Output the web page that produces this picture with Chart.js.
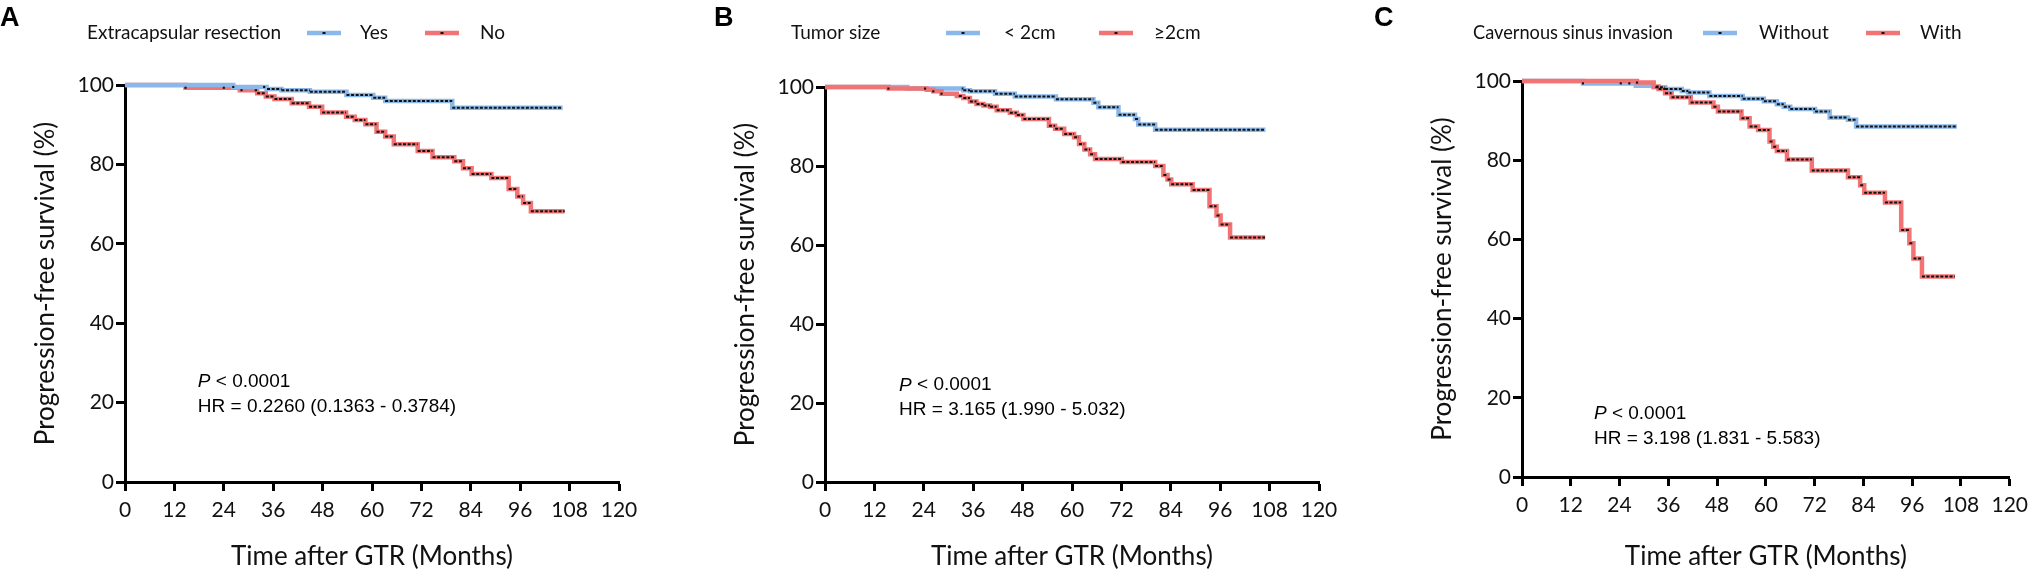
<!DOCTYPE html>
<html>
<head>
<meta charset="utf-8">
<script src="https://cdn.jsdelivr.net/npm/chart.js@4.4.1/dist/chart.umd.min.js"></script>
<style>
  html, body { margin: 0; padding: 0; background: #fff; }
  body { width: 2035px; height: 572px; position: relative; overflow: hidden; }
  .panel { position: absolute; top: 0; height: 572px; }
</style>
</head>
<body>
<div class="panel" style="left:0;width:678px"><canvas id="chartA"></canvas></div>
<div class="panel" style="left:678px;width:678px"><canvas id="chartB"></canvas></div>
<div class="panel" style="left:1356px;width:679px"><canvas id="chartC"></canvas></div>
<script>
// ---- data (months, % progression-free) ----
const xTicks = [0, 12, 24, 36, 48, 60, 72, 84, 96, 108, 120];
const yTicks = [0, 20, 40, 60, 80, 100];

// A: extracapsular resection
const groupsA = ['Yes', 'No'];
const monthsA_yes = [0, 26.3, 34.4, 38.0, 44.9, 53.8, 60.3, 63.2, 79.5, 106.3];
const survA_yes   = [100, 99.5, 99.0, 98.7, 98.3, 97.5, 96.8, 96.0, 94.3, 94.3];
const monthsA_no  = [0, 14.7, 27.9, 32.1, 34.2, 36.3, 40.5, 44.7, 47.9, 53.7, 55.8, 58.4, 61.1, 63.2, 65.3, 71.1, 74.7, 80.0, 82.1, 84.2, 89.0, 93.2, 95.3, 96.7, 98.6, 106.8];
const survA_no    = [100, 99.3, 98.7, 97.9, 97.1, 96.5, 95.4, 94.5, 93.1, 92.0, 91.2, 90.1, 88.2, 87.0, 85.1, 83.4, 81.8, 80.8, 79.0, 77.6, 76.6, 73.8, 71.9, 70.3, 68.2, 68.2];
const censorFromA = [34.5, 31.5];
const singleCensorA_yes = [26.3, 33.8];
const singleCensorA_no  = [14.7, 24.0, 28.3];

// B: tumor size
const groupsB = ['< 2cm', '≥2cm'];
const monthsB_small = [0, 20.0, 33.6, 35.2, 41.3, 46.1, 56.1, 65.2, 66.4, 71.3, 75.3, 76.1, 80.2, 107.0];
const survB_small   = [100, 99.6, 99.2, 98.9, 98.3, 97.6, 96.9, 96.0, 94.9, 93.0, 91.9, 90.5, 89.2, 89.2];
const monthsB_large = [0, 15.4, 24.7, 26.3, 28.3, 32.0, 33.6, 35.2, 36.8, 38.5, 40.1, 41.7, 44.9, 46.6, 48.2, 54.4, 55.9, 58.1, 60.5, 61.7, 63.0, 64.4, 65.6, 72.1, 80.2, 82.2, 83.2, 84.1, 89.3, 93.4, 95.1, 96.1, 98.4, 106.9];
const survB_large   = [100, 99.6, 99.3, 98.9, 98.3, 97.7, 97.2, 96.3, 95.7, 95.3, 95.0, 94.1, 93.5, 92.9, 91.9, 90.2, 89.4, 88.1, 87.3, 85.6, 84.2, 83.0, 81.8, 81.0, 80.0, 77.7, 76.6, 75.4, 73.9, 69.8, 67.5, 65.2, 61.9, 61.9];
const censorFromB = [33.2, 32.5];
const singleCensorB_small = [];
const singleCensorB_large = [15.4, 24.3, 26.3, 28.3];

// C: cavernous sinus invasion
const groupsC = ['Without', 'With'];
const monthsC_without = [0, 15.0, 28.0, 32.4, 35.2, 39.3, 40.9, 46.1, 54.3, 59.5, 62.7, 64.4, 66.0, 72.1, 75.7, 80.2, 82.2, 107.0];
const survC_without   = [100, 99.4, 98.8, 98.4, 98.0, 97.5, 97.1, 96.2, 95.5, 94.9, 94.1, 93.5, 92.9, 92.3, 90.8, 90.2, 88.5, 88.5];
const monthsC_with = [0, 28.3, 32.4, 33.6, 35.2, 36.8, 41.5, 47.1, 48.2, 54.0, 56.0, 58.1, 60.9, 61.8, 62.7, 65.2, 71.3, 80.2, 83.2, 84.2, 89.3, 93.3, 95.3, 96.3, 98.4, 106.5];
const survC_with   = [100, 99.6, 98.6, 98.0, 96.9, 95.9, 94.6, 93.5, 92.3, 90.6, 88.5, 87.6, 84.7, 83.4, 82.3, 80.2, 77.4, 75.7, 73.7, 71.8, 69.3, 62.4, 59.0, 55.2, 50.6, 50.6];
const censorFromC = [32.8, 33.0];
const singleCensorC_without = [15.0, 24.3, 26.4];
const singleCensorC_with = [28.3];

const BLUE = '#8ab8ea';
const RED = '#f27373';
const LABEL_FONT = 'Lato, "Open Sans", sans-serif';

// survival value at time t of a step curve
function stepAt(ts, ss, t) {
  let v = ss[0];
  for (let i = 0; i < ts.length; i++) if (ts[i] <= t) v = ss[i];
  return v;
}

function stepPoints(ts, ss) {
  return ts.map((t, i) => ({ x: t, y: ss[i] }));
}

// flat parts of the curve after censoring starts, drawn as black tick row
function censorRow(ts, ss, from) {
  const pts = [];
  for (let i = 0; i < ts.length - 1; i++) {
    if (ts[i + 1] <= from) continue;
    pts.push({ x: Math.max(ts[i], from), y: ss[i] }, { x: ts[i + 1], y: ss[i] }, { x: ts[i + 1], y: null });
  }
  return pts;
}

function singleMarks(ts, ss, marks) {
  return marks.map(m => ({ x: m, y: stepAt(ts, ss, m) }));
}

function curveSets(ts, ss, color, order, from, marks) {
  return [
    // chart.js 'before' = horizontal first, then the drop
    { data: stepPoints(ts, ss), stepped: 'before', borderColor: color, borderWidth: 4.5,
      pointRadius: 0, clip: false, order: order, fill: false },
    { data: censorRow(ts, ss, from), borderColor: '#111', borderWidth: 2, borderDash: [3, 1.6],
      pointRadius: 0, spanGaps: false, clip: false, order: -2, fill: false },
    { data: singleMarks(ts, ss, marks), showLine: false, pointStyle: 'rect', pointRadius: 1.5,
      pointBackgroundColor: '#111', pointBorderWidth: 0, clip: false, order: -1 }
  ];
}

// legend row, panel letter and the P / HR note
const kmDecor = {
  id: 'kmDecor',
  afterDraw(chart, args, o) {
    const ctx = chart.ctx;
    ctx.save();
    ctx.fillStyle = '#000';
    ctx.textBaseline = 'middle';
    ctx.font = 'bold 27px "Liberation Sans", Arial, sans-serif';
    ctx.fillText(o.letter, o.letterX, 19);

    // capped widths keep the legend row on the original spacing
    ctx.font = '19px ' + LABEL_FONT;
    const y = 33;
    ctx.fillStyle = '#111';
    ctx.fillText(o.title, o.legendX, y, o.titleW);
    o.entries.forEach((lab, i) => {
      const lx = o.lineX[i];
      ctx.strokeStyle = o.colors[i];
      ctx.lineWidth = 4.5;
      ctx.beginPath(); ctx.moveTo(lx, y); ctx.lineTo(lx + 34, y); ctx.stroke();
      ctx.fillStyle = '#111';
      ctx.fillRect(lx + 15.5, y - 1, 3, 2);
      ctx.fillText(lab, o.labelX[i], y, o.labelW[i]);
    });

    const sx = chart.scales.x, sy = chart.scales.y;
    const nx = sx.getPixelForValue(o.noteX);
    ctx.fillStyle = '#000';
    ctx.font = 'italic 19px "Liberation Sans", Arial, sans-serif';
    ctx.fillText('P', nx, sy.getPixelForValue(o.noteP));
    const pw = ctx.measureText('P').width;
    ctx.font = '19px "Liberation Sans", Arial, sans-serif';
    ctx.fillText(' < 0.0001', nx + pw, sy.getPixelForValue(o.noteP));
    ctx.fillText(o.hr, nx, sy.getPixelForValue(o.noteHR));
    ctx.restore();
  }
};

function makeChart(id, datasets, p) {
  new Chart(document.getElementById(id), {
    type: 'line',
    data: { datasets: datasets },
    options: {
      responsive: true,
      maintainAspectRatio: false,
      animation: false,
      events: [],
      layout: { padding: { top: p.top, right: p.right, left: 0, bottom: 0 } },
      plugins: {
        legend: { display: false },
        tooltip: { enabled: false },
        kmDecor: p.decor
      },
      scales: {
        x: {
          type: 'linear', min: 0, max: 120,
          afterBuildTicks: s => { s.ticks = xTicks.map(v => ({ value: v })); },
          afterFit: s => { s.height = p.xH; },
          border: { display: true, color: '#000', width: 3 },
          grid: { display: true, drawOnChartArea: false, drawTicks: true, tickLength: 9, tickWidth: 3, tickColor: '#000' },
          ticks: { color: '#111', padding: 7, maxRotation: 0, autoSkip: false, font: { family: LABEL_FONT, size: 21 } },
          title: { display: true, text: 'Time after GTR (Months)', color: '#111', padding: { top: 0, bottom: 0 },
                   font: { family: LABEL_FONT, size: 26 } }
        },
        y: {
          type: 'linear', min: 0, max: 100,
          afterBuildTicks: s => { s.ticks = yTicks.map(v => ({ value: v })); },
          afterFit: s => { s.width = p.yW; },
          border: { display: true, color: '#000', width: 3 },
          grid: { display: true, drawOnChartArea: false, drawTicks: true, tickLength: 9, tickWidth: 3, tickColor: '#000' },
          ticks: { color: '#111', padding: 2, font: { family: LABEL_FONT, size: 21 } },
          title: { display: true, text: 'Progression-free survival (%)', color: '#111', padding: { top: p.yTitlePad, bottom: 0 },
                   font: { family: LABEL_FONT, size: 26 } }
        }
      }
    },
    plugins: [kmDecor]
  });
}

makeChart('chartA',
  [...curveSets(monthsA_yes, survA_yes, BLUE, 1, censorFromA[0], singleCensorA_yes),
   ...curveSets(monthsA_no, survA_no, RED, 2, censorFromA[1], singleCensorA_no)],
  { top: 85, right: 59, xH: 90, yW: 125, yTitlePad: 30,
    decor: { letter: 'A', letterX: 0, legendX: 87, title: 'Extracapsular resection', titleW: 196,
             entries: groupsA, colors: [BLUE, RED], lineX: [307, 425], labelX: [360, 480], labelW: [32, 28],
             noteX: 17.7, noteP: 25.2, noteHR: 18.9, hr: 'HR = 0.2260 (0.1363 - 0.3784)' } });

makeChart('chartB',
  [...curveSets(monthsB_large, survB_large, RED, 1, censorFromB[1], singleCensorB_large),
   ...curveSets(monthsB_small, survB_small, BLUE, 2, censorFromB[0], singleCensorB_small)],
  { top: 87, right: 37, xH: 90, yW: 147, yTitlePad: 52,
    decor: { letter: 'B', letterX: 36, legendX: 113, title: 'Tumor size', titleW: 98,
             entries: groupsB, colors: [BLUE, RED], lineX: [268, 421], labelX: [326, 476], labelW: [62, 58],
             noteX: 18, noteP: 24.5, noteHR: 18.2, hr: 'HR = 3.165 (1.990 - 5.032)' } });

makeChart('chartC',
  [...curveSets(monthsC_with, survC_with, RED, 1, censorFromC[1], singleCensorC_with),
   ...curveSets(monthsC_without, survC_without, BLUE, 2, censorFromC[0], singleCensorC_without)],
  { top: 81, right: 19, xH: 95, yW: 166, yTitlePad: 71,
    decor: { letter: 'C', letterX: 18, legendX: 117, title: 'Cavernous sinus invasion', titleW: 200,
             entries: groupsC, colors: [BLUE, RED], lineX: [347, 510], labelX: [403, 564], labelW: [72, 46],
             noteX: 17.7, noteP: 16, noteHR: 9.7, hr: 'HR = 3.198 (1.831 - 5.583)' } });
</script>
</body>
</html>
